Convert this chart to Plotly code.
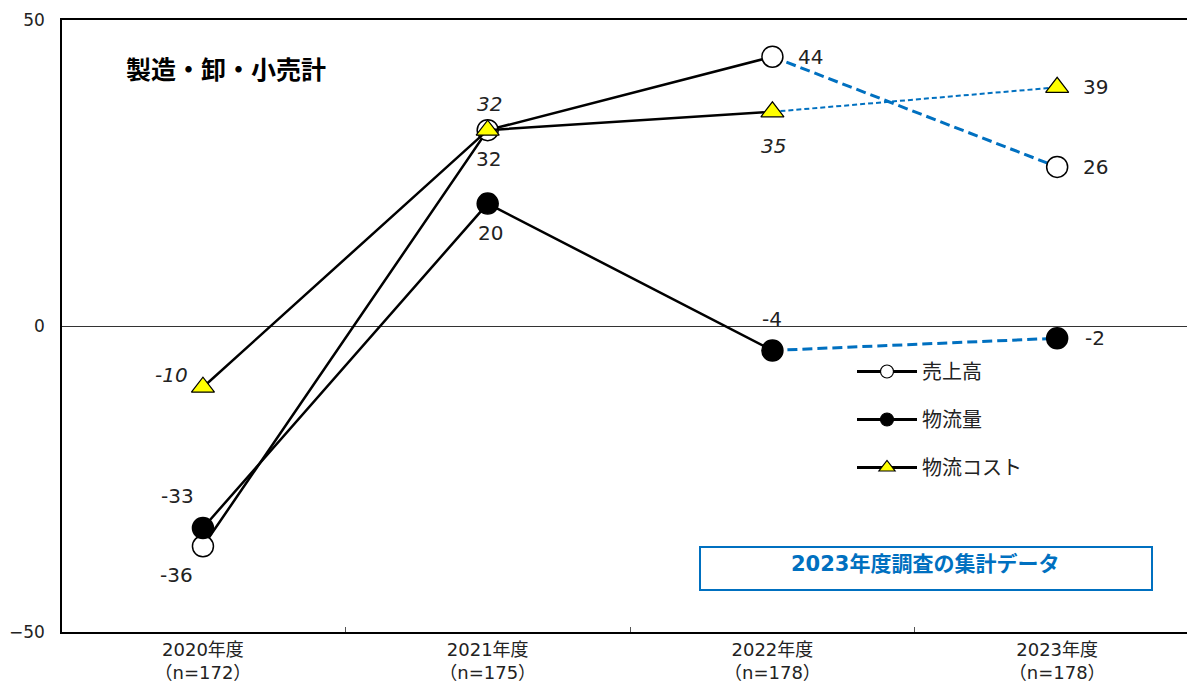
import plotly.graph_objects as go

categories = ["2020年度<br>（n=172）", "2021年度<br>（n=175）", "2022年度<br>（n=178）", "2023年度<br>（n=178）"]
series_names = ["売上高", "物流量", "物流コスト"]
sales = [-36, 32, 44, 26]
volume = [-33, 20, -4, -2]
cost = [-10, 32, 35, 39]
y_ticks = [-50, 0, 50]
title_text = "製造・卸・小売計"
box_text = "2023年度調査の集計データ"

FONT = "DejaVu Sans, Noto Sans CJK JP, sans-serif"
BLUE = "#0070C0"

values = [sales, volume, cost]
symbols = ["circle", "circle", "triangle-up"]
fills = ["white", "black", "#FFFF00"]
plot_sizes = [21, 21, 20]
legend_sizes = [13, 13, 14]
dash_styles = [dict(width=3, dash="10px,5px"), dict(width=3, dash="10px,5px"), dict(width=2, dash="5px,3px")]
# label offsets (xshift, yshift) per point
label_offsets = [
    [(-26, -29), (1, -29), (38, 0), (38, 0)],
    [(-25, 32), (3, -29), (0, 31), (38, 0)],
    [(-31, 12), (2, 26), (1, -34), (38, 0)],
]
label_italic = [False, False, True]

fig = go.Figure()

# dashed 2022->2023 segments first
for vals, ds in zip(values, dash_styles):
    fig.add_trace(go.Scatter(
        x=categories[2:4], y=vals[2:4], mode="lines",
        line=dict(color=BLUE, **ds), showlegend=False, hoverinfo="skip"))

# main traces (solid lines for 2020-2022, isolated marker for 2023)
for i, (name, vals) in enumerate(zip(series_names, values)):
    fig.add_trace(go.Scatter(
        x=categories[0:3] + [categories[2], categories[3]],
        y=vals[0:3] + [None, vals[3]],
        mode="lines+markers", name=name, legendgroup=name, showlegend=False,
        line=dict(color="black", width=2.5),
        marker=dict(symbol=symbols[i], size=plot_sizes[i], color=fills[i],
                    line=dict(color="black", width=1.5 if i < 2 else 1.2)),
        connectgaps=False))

# legend-only entries
for i, name in enumerate(series_names):
    fig.add_trace(go.Scatter(
        x=[None], y=[None], mode="lines+markers", name=name, legendgroup=name,
        line=dict(color="black", width=2.8),
        marker=dict(symbol=symbols[i], size=legend_sizes[i], color=fills[i],
                    line=dict(color="black", width=1.2)),
        showlegend=True))

annotations = []
for i, vals in enumerate(values):
    for j, v in enumerate(vals):
        xs, ys = label_offsets[i][j]
        italic = label_italic[i] and j < 3
        annotations.append(dict(
            x=categories[j], y=v, xref="x", yref="y", text=str(v), showarrow=False,
            xshift=xs, yshift=ys,
            font=dict(family=FONT, size=20, color="#222",
                      style="italic" if italic else "normal")))

annotations.append(dict(
    x=(124 - 62) / 1125, y=(632 - 70) / 612, xref="paper", yref="paper",
    text=f"<b>{title_text}</b>", showarrow=False, xanchor="left", yanchor="middle",
    font=dict(family=FONT, size=25, color="black")))

annotations.append(dict(
    x=(925 - 62) / 1125, y=(632 - 564) / 612, xref="paper", yref="paper",
    text=f"<b>{box_text}</b>", showarrow=False, xanchor="center", yanchor="middle",
    font=dict(family=FONT, size=21, color=BLUE)))

fig.add_shape(type="rect", xref="paper", yref="paper",
              x0=(700 - 62) / 1125, x1=(1152 - 62) / 1125,
              y0=(632 - 590) / 612, y1=(632 - 547) / 612,
              line=dict(color=BLUE, width=2), fillcolor="rgba(0,0,0,0)")

fig.update_layout(
    width=1187, height=682,
    margin=dict(l=62, r=0, t=20, b=50),
    paper_bgcolor="white", plot_bgcolor="white",
    font=dict(family=FONT, size=16, color="#222"),
    annotations=annotations,
    legend=dict(
        x=(852 - 62) / 1125, y=(632 - 352) / 612, xanchor="left", yanchor="top",
        bgcolor="rgba(0,0,0,0)", font=dict(family=FONT, size=20, color="#222"),
        itemsizing="trace", itemwidth=60, traceorder="grouped", tracegroupgap=19),
    showlegend=True,
)
fig.update_xaxes(
    type="category", categoryorder="array", categoryarray=categories,
    range=[-0.495, 3.456], showline=True, linecolor="black", linewidth=2, mirror=True,
    ticks="inside", tickson="boundaries", ticklen=5, tickcolor="#555", tickwidth=1,
    showgrid=False, automargin=False, ticklabelstandoff=0,
    tickfont=dict(family=FONT, size=18, color="#222"))
fig.update_yaxes(
    range=[-50, 50], tickvals=y_ticks, showline=True, linecolor="black", linewidth=1.5,
    showgrid=False, zeroline=True, zerolinecolor="#333", zerolinewidth=1, automargin=False,
    ticks="", ticklabelstandoff=12, tickfont=dict(family=FONT, size=17, color="#222"))

fig.write_html("out.html")
